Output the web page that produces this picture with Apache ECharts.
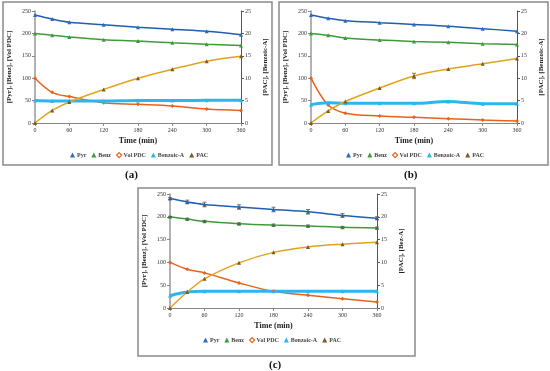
<!DOCTYPE html>
<html><head><meta charset="utf-8">
<script src="https://cdn.jsdelivr.net/npm/echarts@6/dist/echarts.min.js"></script>
<style>html,body{margin:0;padding:0;background:#fff}#c{width:550px;height:371px}</style>
</head><body><div id="c"></div>
<script>
const times = [0, 30, 60, 120, 180, 240, 300, 360];
const seriesNames = ['Pyr', 'Benz', 'Vol PDC', 'Benzoic-A', 'PAC'];
const panelLabels = ['(a)', '(b)', '(c)'];
const rightAxisNames = ['[PAC], [Benzoic-A]', '[PAC], [Benzoic-A]', '[PAC], [Bez-A]'];
const leftAxisName = '[Pyr], [Benz], [Vol PDC]';
const xAxisName = 'Time (min)';

const a_pyr = [241, 232, 225, 219.5, 214, 209, 204.6, 197];
const a_benz = [200, 196, 192, 186, 183, 179, 175.6, 173];
const a_vol = [100, 68.5, 59, 45, 41.7, 38, 31, 28];
const a_benzoic = [5.0, 4.9, 4.9, 4.9, 5.0, 5.0, 5.1, 5.1];
const a_pac = [0, 2.8, 4.7, 7.5, 10.0, 12.0, 13.8, 14.9];

const b_pyr = [241, 233.6, 228.4, 224, 220, 216, 210.6, 205];
const b_benz = [200, 195.7, 190, 185, 182, 180, 177, 175];
const b_vol = [100, 40, 22, 15.6, 12.6, 9.7, 6.7, 4.5];
const b_benzoic = [4.1, 4.5, 4.4, 4.4, 4.4, 4.8, 4.3, 4.3];
const b_pac = [0, 2.7, 4.8, 7.8, 10.5, 12.05, 13.2, 14.4];
const b_pac_err = [0, 0, 0, 0, 0.6, 0, 0, 0];

const c_pyr = [240, 232.5, 227, 221.5, 216, 211, 203, 197];
const c_benz = [200, 195, 190, 185, 182, 180, 177, 175.4];
const c_vol = [100, 85, 77, 55, 36.5, 28, 20.5, 13];
const c_benzoic = [2.7, 3.5, 3.65, 3.65, 3.7, 3.7, 3.65, 3.65];
const c_pac = [0, 3.5, 6.4, 9.9, 12.2, 13.4, 14.0, 14.4];
const c_pyr_err = [2, 4, 5, 5, 5, 5, 4, 3];
const c_benz_err = [1, 2, 2, 2, 2, 2, 2, 2];

const panels = [
  {pyr: a_pyr, benz: a_benz, vol: a_vol, benzoic: a_benzoic, pac: a_pac, errs: []},
  {pyr: b_pyr, benz: b_benz, vol: b_vol, benzoic: b_benzoic, pac: b_pac, errs: [{vals: b_pac, err: b_pac_err, y: 1, color: '#7a5a20'}]},
  {pyr: c_pyr, benz: c_benz, vol: c_vol, benzoic: c_benzoic, pac: c_pac, errs: [{vals: c_pyr, err: c_pyr_err, y: 0, color: '#555'}, {vals: c_benz, err: c_benz_err, y: 0, color: '#555'}]}
];

const FONT = 'Liberation Serif';
const colors = {Pyr: '#1f5fae', Benz: '#3f9a3a', 'Vol PDC': '#e8621c', 'Benzoic-A': '#2cb6f0', PAC: '#e2a31c'};
const markerColors = {Pyr: '#2a6cc0', Benz: '#3f9a3a', 'Vol PDC': '#e8621c', 'Benzoic-A': '#2cb6f0', PAC: '#7f5a1e'};

const grids = [
  {left: 35, top: 11, width: 206, height: 112},
  {left: 311, top: 11, width: 206, height: 112},
  {left: 170, top: 194, width: 207, height: 114}
];
const legendPos = [{left: 70, top: 152}, {left: 346, top: 152}, {left: 203, top: 337}];
const labelPos = [[133, 177], [412, 177], [277, 367]];

const zip = (v) => times.map((t, i) => [t, v[i]]);

const xAxis = [], yAxis = [], series = [], legend = [], graphic = [];
grids.forEach((g, k) => {
  xAxis.push({
    type: 'value', gridIndex: k, min: 0, max: 360, interval: 60,
    name: xAxisName, nameLocation: 'middle', nameGap: 14,
    nameTextStyle: {fontFamily: FONT, fontWeight: 'bold', fontSize: 8, color: '#222'},
    axisLine: {lineStyle: {color: '#888', width: 1}},
    axisTick: {inside: false, length: 3, lineStyle: {color: '#888'}},
    axisLabel: {fontFamily: FONT, fontSize: 6, color: '#333', margin: 4},
    splitLine: {show: false}
  });
  yAxis.push({
    type: 'value', gridIndex: k, min: 0, max: 250, interval: 50, position: 'left',
    name: leftAxisName, nameLocation: 'middle', nameGap: 22, nameRotate: 90,
    nameTextStyle: {fontFamily: FONT, fontWeight: 'bold', fontSize: 7, color: '#222'},
    axisLine: {show: true, lineStyle: {color: '#999', width: 1.5}},
    axisTick: {show: true, length: 3, lineStyle: {color: '#888'}},
    axisLabel: {fontFamily: FONT, fontSize: 6, color: '#333', margin: 4},
    splitLine: {show: false}
  });
  yAxis.push({
    type: 'value', gridIndex: k, min: 0, max: 25, interval: 5, position: 'right',
    name: rightAxisNames[k], nameLocation: 'middle', nameGap: 21, nameRotate: 90,
    nameTextStyle: {fontFamily: FONT, fontWeight: 'bold', fontSize: 7, color: '#222'},
    axisLine: {show: true, lineStyle: {color: '#555', width: 1}},
    axisTick: {show: true, length: 3, lineStyle: {color: '#555'}},
    axisLabel: {fontFamily: FONT, fontSize: 6, color: '#333', margin: 4},
    splitLine: {show: false}
  });
  const p = panels[k];
  const defs = [
    ['Pyr', p.pyr, 0, 'triangle', 1.5],
    ['Benz', p.benz, 0, 'triangle', 1.5],
    ['Vol PDC', p.vol, 0, 'diamond', 1.5],
    ['Benzoic-A', p.benzoic, 1, 'triangle', 3],
    ['PAC', p.pac, 1, 'triangle', 1.5]
  ];
  defs.forEach(([name, vals, yi, sym, lw]) => {
    series.push({
      name: name, type: 'line', xAxisIndex: k, yAxisIndex: k * 2 + yi,
      data: zip(vals), smooth: 0.35, symbol: sym, symbolSize: 4, showSymbol: true,
      lineStyle: {color: colors[name], width: lw},
      itemStyle: {color: markerColors[name]},
      z: 3
    });
  });
  p.errs.forEach((e) => {
    series.push({
      type: 'custom', xAxisIndex: k, yAxisIndex: k * 2 + e.y, silent: true, z: 4,
      data: times.map((t, i) => [t, e.vals[i], e.err[i]]).filter(d => d[2] > 0),
      renderItem: function (params, api) {
        const x = api.value(0), y = api.value(1), er = api.value(2);
        const hi = api.coord([x, y + er]), lo = api.coord([x, y - er]);
        const s = {stroke: e.color, lineWidth: 0.8};
        return {type: 'group', children: [
          {type: 'line', shape: {x1: hi[0], y1: hi[1], x2: lo[0], y2: lo[1]}, style: s},
          {type: 'line', shape: {x1: hi[0] - 2, y1: hi[1], x2: hi[0] + 2, y2: hi[1]}, style: s},
          {type: 'line', shape: {x1: lo[0] - 2, y1: lo[1], x2: lo[0] + 2, y2: lo[1]}, style: s}
        ]};
      }
    });
  });
  legend.push({
    left: legendPos[k].left, top: legendPos[k].top, orient: 'horizontal', padding: 0,
    itemWidth: 5, itemHeight: 5, itemGap: 5, selectedMode: false,
    textStyle: {fontFamily: FONT, fontSize: 6, fontWeight: 'bold', color: '#444', padding: [0, 0, 0, -3]},
    data: seriesNames.map(n => ({
      name: n,
      icon: n === 'Vol PDC' ? 'diamond' : 'triangle',
      itemStyle: n === 'Vol PDC' ? {color: '#fff', borderColor: colors[n], borderWidth: 1.2} : {color: markerColors[n]}
    }))
  });
  graphic.push({
    type: 'text', left: labelPos[k][0] - 8, top: labelPos[k][1] - 7,
    style: {text: panelLabels[k], font: 'bold 11px "Liberation Serif"', fill: '#111'}
  });
});
graphic.push(
  {type: 'rect', shape: {x: 3, y: 2, width: 269, height: 163}, style: {fill: 'none', stroke: '#8a8a8a', lineWidth: 1.5}},
  {type: 'rect', shape: {x: 279, y: 2, width: 269, height: 163}, style: {fill: 'none', stroke: '#8a8a8a', lineWidth: 1.5}},
  {type: 'rect', shape: {x: 138, y: 188, width: 277, height: 168}, style: {fill: 'none', stroke: '#8a8a8a', lineWidth: 1.5}}
);

const chart = echarts.init(document.getElementById('c'), null, {renderer: 'canvas'});
chart.setOption({
  animation: false,
  backgroundColor: '#fff',
  grid: grids,
  xAxis: xAxis,
  yAxis: yAxis,
  legend: legend,
  series: series,
  graphic: graphic
});
</script>
</body></html>
